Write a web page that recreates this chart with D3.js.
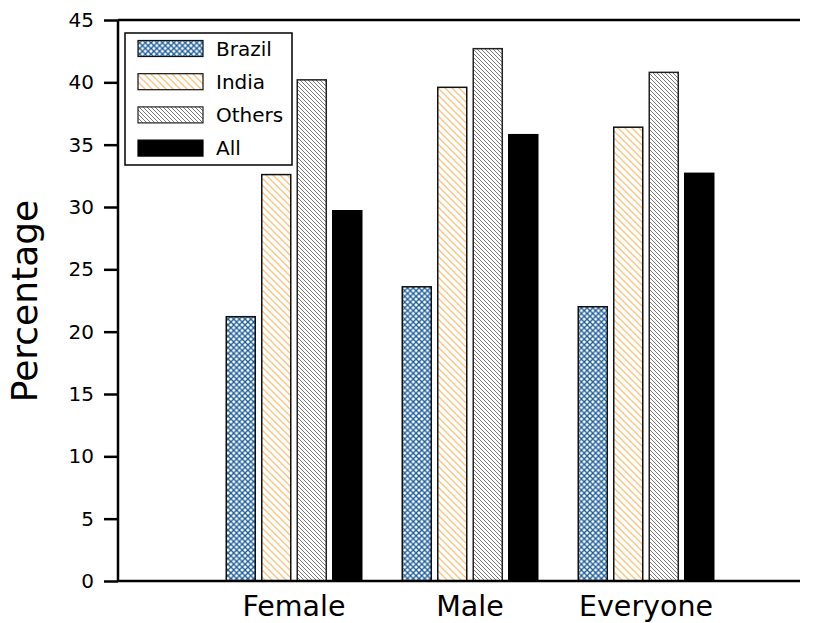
<!DOCTYPE html>
<html>
<head>
<meta charset="utf-8">
<script src="https://cdn.jsdelivr.net/npm/d3@7"></script>
<style>
  html, body { margin: 0; padding: 0; background: #fff; }
  text { font-family: "DejaVu Sans", sans-serif; fill: #000; }
</style>
</head>
<body>
<svg id="chart" width="814" height="623"></svg>
<script>
// Share of respondents by group and region
const groups = ["Female", "Male", "Everyone"];
const seriesNames = ["Brazil", "India", "Others", "All"];
const brazil = [21.2, 23.6, 22.0];
const india  = [32.6, 39.6, 36.4];
const others = [40.2, 42.7, 40.8];
const all    = [29.7, 35.8, 32.7];
const yTicks = [0, 5, 10, 15, 20, 25, 30, 35, 40, 45];

const seriesValues = [brazil, india, others, all];

const svg = d3.select("#chart");
const margin = { left: 118, right: 800, top: 20, bottom: 581 };

// Patterns for each series
const defs = svg.append("defs");
function hatch(id, size, color, width, cross) {
  const p = defs.append("pattern")
    .attr("id", id)
    .attr("patternUnits", "userSpaceOnUse")
    .attr("width", size).attr("height", size);
  p.append("rect").attr("width", size).attr("height", size).attr("fill", "#fff");
  const lines = [[-1, -1, size + 1, size + 1], [-size - 1, -1, 1, size + 1], [size - 1, -1, 2 * size + 1, size + 1]];
  lines.forEach(l => p.append("line")
    .attr("x1", l[0]).attr("y1", l[1]).attr("x2", l[2]).attr("y2", l[3])
    .attr("stroke", color).attr("stroke-width", width));
  if (cross) {
    const back = [[-1, size + 1, size + 1, -1], [-size - 1, size + 1, 1, -1], [size - 1, size + 1, 2 * size + 1, -1]];
    back.forEach(l => p.append("line")
      .attr("x1", l[0]).attr("y1", l[1]).attr("x2", l[2]).attr("y2", l[3])
      .attr("stroke", color).attr("stroke-width", width));
  }
}
hatch("pBrazil", 5.7, "#1b5c98", 1.3, true);
hatch("pIndia", 7, "#fcc47e", 1.3, false);
hatch("pOthers", 4, "#7a7a7a", 1.0, false);

const fills = ["url(#pBrazil)", "url(#pIndia)", "url(#pOthers)", "#000"];
const strokes = ["#111", "#111", "#222", "#000"];

const x = d3.scaleLinear().domain([0, 3.875]).range([margin.left, margin.right]);
const y = d3.scaleLinear().domain([0, 45]).range([margin.bottom, margin.top]);
const step = 35.5, barW = 29;

// Bars
seriesValues.forEach((vals, s) => {
  svg.append("g").selectAll("rect")
    .data(vals)
    .join("rect")
    .attr("x", (d, i) => x(i + 1) + (s - 1.5) * step - barW / 2)
    .attr("y", d => y(d))
    .attr("width", barW)
    .attr("height", d => y(0) - y(d))
    .attr("fill", fills[s])
    .attr("stroke", strokes[s])
    .attr("stroke-width", 1.5);
});

// Y axis
const yAxis = d3.axisLeft(y).tickValues(yTicks).tickSize(14).tickPadding(10);
const gy = svg.append("g").attr("transform", `translate(${margin.left},0)`).call(yAxis);
gy.select(".domain").attr("stroke-width", 2.5).attr("d", `M0,${margin.bottom}V${margin.top}`);
gy.selectAll(".tick line").attr("stroke-width", 2.5);
gy.selectAll(".tick text").style("font-size", "20px").style("font-family", "DejaVu Sans");

// Top and bottom spines
svg.append("line").attr("x1", margin.left).attr("x2", margin.right)
  .attr("y1", y(45)).attr("y2", y(45)).attr("stroke", "#000").attr("stroke-width", 2.5);
svg.append("line").attr("x1", margin.left).attr("x2", margin.right)
  .attr("y1", y(0)).attr("y2", y(0)).attr("stroke", "#000").attr("stroke-width", 2.5);

// Group labels
svg.append("g").selectAll("text")
  .data(groups)
  .join("text")
  .attr("x", (d, i) => x(i + 1))
  .attr("y", 616)
  .attr("text-anchor", "middle")
  .style("font-size", "28.5px")
  .text(d => d);

// Y label
svg.append("text")
  .attr("transform", "translate(37,301) rotate(-90)")
  .attr("text-anchor", "middle")
  .style("font-size", "36px")
  .text("Percentage");

// Legend
const lg = svg.append("g");
lg.append("rect").attr("x", 125).attr("y", 33).attr("width", 167).attr("height", 132)
  .attr("fill", "#fff").attr("stroke", "#000").attr("stroke-width", 1.5);
seriesNames.forEach((name, s) => {
  const cy = 48.5 + s * 33.2;
  lg.append("rect").attr("x", 138).attr("y", cy - 8).attr("width", 65).attr("height", 16)
    .attr("fill", fills[s]).attr("stroke", strokes[s]).attr("stroke-width", 1.2);
  lg.append("text").attr("x", 216).attr("y", cy + 7).style("font-size", "20px").text(name);
});
</script>
</body>
</html>
